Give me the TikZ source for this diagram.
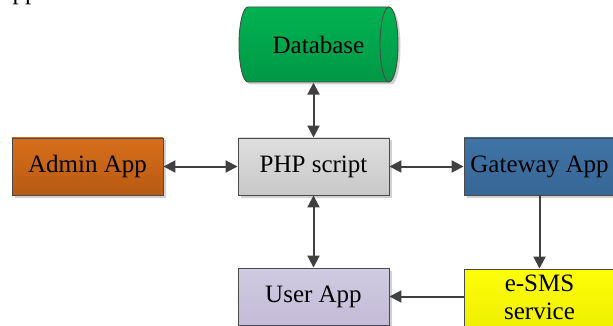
\documentclass[tikz,border=0pt]{standalone}
\usepackage{fontspec}
\setmainfont{Liberation Serif}
\usetikzlibrary{arrows.meta,shadows}
\definecolor{edgegrey}{HTML}{4A4A4A}
\definecolor{arrowgrey}{HTML}{404040}
\begin{document}
\begin{tikzpicture}[x=1pt,y=-1pt,
  every node/.style={font=\fontsize{25}{28}\selectfont},
  appbox/.style={draw=edgegrey, line width=0.9pt, minimum width=151pt, minimum height=57pt,
    inner sep=0pt, align=center,
    drop shadow={shadow xshift=2.5pt, shadow yshift=-2.5pt, fill=black, opacity=0.18}},
  link/.style={draw=arrowgrey, line width=2pt, -{Triangle[length=12pt,width=12pt]}},
  biglink/.style={draw=arrowgrey, line width=2pt, {Triangle[length=12pt,width=12pt]}-{Triangle[length=12pt,width=12pt]}}]
\useasboundingbox (0,0) rectangle (613,326);

% partial caption text at the top left
\node[anchor=base west, inner sep=0pt] (cap) at (12.5,-0.5) {pp};

% database cylinder
\node[minimum width=159pt, minimum height=75pt, inner sep=0pt] (db) at (318.5,44.5) {};
\fill[black, opacity=0.18] (250.5,9.5) -- (391.5,9.5) arc[start angle=-90, end angle=90, x radius=9, y radius=37.5]
  -- (250.5,84.5) arc[start angle=90, end angle=270, x radius=9, y radius=37.5] -- cycle;
\shade[top color={rgb,255:red,0;green,178;blue,80}, bottom color={rgb,255:red,0;green,152;blue,70},
  draw=edgegrey, line width=0.9pt]
  (248,7) -- (389,7) arc[start angle=-90, end angle=90, x radius=9, y radius=37.5]
  -- (248,82) arc[start angle=90, end angle=270, x radius=9, y radius=37.5] -- cycle;
\draw[edgegrey, line width=0.9pt] (389,7) arc[start angle=270, end angle=90, x radius=9, y radius=37.5];
\node at (db.center) {Database};

% boxes
\node[appbox, top color={rgb,255:red,214;green,110;blue,28}, bottom color={rgb,255:red,184;green,90;blue,18}]
  (admin) at (87.5,166.5) {Admin App};
\node[appbox, top color={rgb,255:red,222;green,222;blue,222}, bottom color={rgb,255:red,200;green,200;blue,200}]
  (php) at (313.5,166.5) {PHP script};
\node[appbox, top color={rgb,255:red,64;green,116;blue,166}, bottom color={rgb,255:red,54;green,102;blue,150}]
  (gate) at (539.5,166.5) {Gateway App};
\node[appbox, top color={rgb,255:red,208;green,202;blue,226}, bottom color={rgb,255:red,196;green,188;blue,216}]
  (user) at (313.5,296.5) {User App};
\node[appbox, top color={rgb,255:red,255;green,255;blue,10}, bottom color={rgb,255:red,238;green,238;blue,0}]
  (esms) at (539.5,297.5) {e-SMS\\service};

% connectors
\draw[biglink] (db.south -| php.north) ++(0,0.5) coordinate (dbb) -- (php.north);
\draw[biglink] (admin.east) -- (php.west);
\draw[biglink] (php.east) -- (gate.west);
\draw[biglink] (php.south) -- (user.north);
\draw[link] (gate.south) -- (esms.north);
\draw[link] (esms.west |- user.east) -- (user.east);
\end{tikzpicture}
\end{document}
